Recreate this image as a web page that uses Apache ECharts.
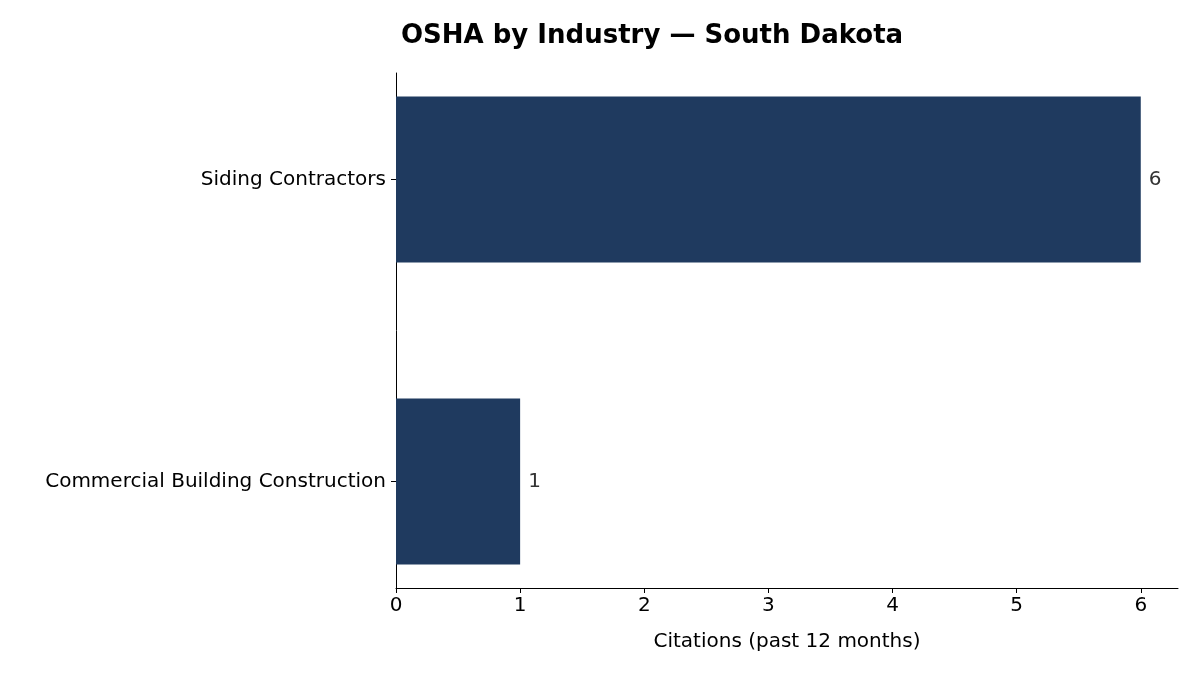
<!DOCTYPE html>
<html><head><meta charset="utf-8">
<script src="https://cdn.jsdelivr.net/npm/echarts@6/dist/echarts.min.js"></script>
<style>html,body{margin:0;padding:0;background:#fff}#c{width:1200px;height:675px}</style>
</head><body><div id="c"></div>
<script>
const categories = ["Commercial Building Construction", "Siding Contractors"];
const values = [1, 6];
const xTicks = [0, 1, 2, 3, 4, 5, 6];
const font = "DejaVu Sans";
const chart = echarts.init(document.getElementById('c'));
const barH = 0.55;
chart.setOption({
  animation: false,
  title: { text: "OSHA by Industry — South Dakota", left: 396, top: 18,
    textStyle: { fontFamily: font, fontWeight: 'bold', fontSize: 26, color: '#000' } },
  grid: { left: 396, right: 22, top: 73, bottom: 87 },
  xAxis: { type: 'value', min: 0, max: 6.3, interval: 1,
    name: "Citations (past 12 months)", nameLocation: 'middle', nameGap: 44,
    nameTextStyle: { fontFamily: font, fontSize: 20, color: '#000' },
    axisLine: { show: true, onZero: false, lineStyle: { color: '#000' } },
    axisTick: { show: true, length: 5, lineStyle: { color: '#000' }, customValues: xTicks },
    axisLabel: { fontFamily: font, fontSize: 20, color: '#000', margin: 8, customValues: xTicks,
      formatter: v => String(v) },
    splitLine: { show: false } },
  yAxis: { type: 'value', min: -0.3525, max: 1.3525,
    axisLine: { show: true, onZero: false, lineStyle: { color: '#000' } },
    axisTick: { show: true, length: 5, lineStyle: { color: '#000' }, customValues: [0, 1] },
    axisLabel: { fontFamily: font, fontSize: 20, color: '#000', margin: 10, customValues: [0, 1],
      formatter: v => categories[Math.round(v)] },
    splitLine: { show: false } },
  series: [{
    type: 'custom',
    data: values.map((v, i) => [v, i]),
    encode: { x: 0, y: 1 },
    renderItem: (params, api) => {
      const v = api.value(0), i = api.value(1);
      const p0 = api.coord([0, i + barH / 2]);
      const p1 = api.coord([v, i - barH / 2]);
      return { type: 'group', children: [
        { type: 'rect', shape: { x: p0[0], y: p0[1], width: p1[0] - p0[0], height: p1[1] - p0[1] },
          style: { fill: '#1f3a5f' } },
        { type: 'text', x: p1[0] + 8, y: (p0[1] + p1[1]) / 2,
          style: { text: String(v), fill: '#333', font: '20px "DejaVu Sans"', verticalAlign: 'middle', align: 'left' } }
      ]};
    }
  }]
});
</script></body></html>
